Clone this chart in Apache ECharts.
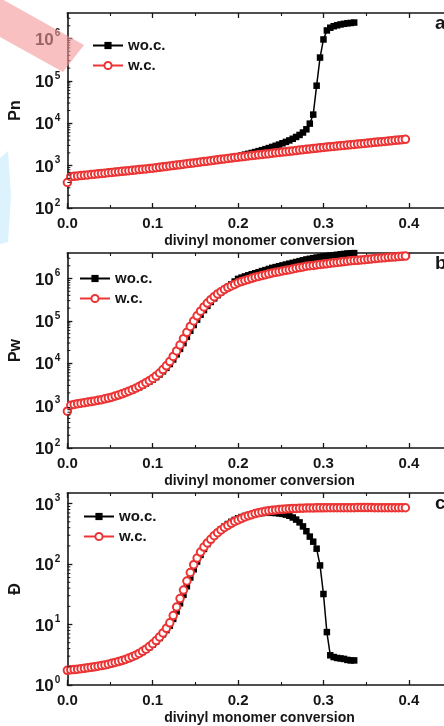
<!DOCTYPE html>
<html>
<head>
<meta charset="utf-8">
<script src="https://cdn.jsdelivr.net/npm/echarts@6/dist/echarts.min.js"></script>
<style>
  html, body { margin: 0; padding: 0; background: #fff; overflow: hidden; width: 444px; height: 726px; }
  #chart { width: 470px; height: 726px; }
</style>
</head>
<body>
<div id="chart"></div>
<script>
// divinyl monomer conversion (x), step of the simulation points
const conversion = [
  0.000, 0.004, 0.008, 0.012, 0.016, 0.020, 0.024, 0.028, 0.032, 0.036,
  0.040, 0.044, 0.048, 0.052, 0.056, 0.060, 0.064, 0.068, 0.072, 0.076,
  0.080, 0.084, 0.088, 0.092, 0.096, 0.100, 0.104, 0.108, 0.112, 0.116,
  0.120, 0.124, 0.128, 0.132, 0.136, 0.140, 0.144, 0.148, 0.152, 0.156,
  0.160, 0.164, 0.168, 0.172, 0.176, 0.180, 0.184, 0.188, 0.192, 0.196,
  0.200, 0.204, 0.208, 0.212, 0.216, 0.220, 0.224, 0.228, 0.232, 0.236,
  0.240, 0.244, 0.248, 0.252, 0.256, 0.260, 0.264, 0.268, 0.272, 0.276,
  0.280, 0.284, 0.288, 0.292, 0.296, 0.300, 0.304, 0.308, 0.312, 0.316,
  0.320, 0.324, 0.328, 0.332, 0.336, 0.340, 0.344, 0.348, 0.352, 0.356,
  0.360, 0.364, 0.368, 0.372, 0.376, 0.380, 0.384, 0.388, 0.392, 0.396
];

// (a) Pn
const pnWoc = [
  400, 545, 556, 566, 577, 588, 600, 611, 623, 636,
  648, 660, 673, 686, 699, 713, 727, 741, 755, 770,
  785, 800, 815, 830, 846, 862, 880, 900, 920, 942,
  963, 985, 1008, 1031, 1055, 1079, 1104, 1130, 1157, 1185,
  1214, 1245, 1278, 1312, 1350, 1390, 1435, 1485, 1540, 1600,
  1665, 1740, 1820, 1900, 1990, 2090, 2200, 2320, 2450, 2600,
  2760, 2940, 3140, 3370, 3630, 3930, 4300, 4750, 5300, 6050,
  7200, 9800, 16000, 77000, 355000, 950000, 1550000, 1800000, 1950000, 2050000,
  2150000, 2220000, 2280000, 2330000, 2380000
];
const pnWc = [
  400, 550, 560, 571, 582, 593, 605, 617, 628, 641,
  653, 665, 679, 692, 705, 719, 733, 746, 762, 776,
  791, 807, 822, 837, 855, 871, 891, 914, 935, 959,
  982, 1005, 1030, 1054, 1081, 1107, 1132, 1161, 1189, 1219,
  1247, 1276, 1309, 1340, 1374, 1406, 1439, 1476, 1510, 1549,
  1585, 1618, 1652, 1690, 1726, 1762, 1799, 1837, 1879, 1919,
  1959, 2000, 2042, 2089, 2133, 2178, 2223, 2270, 2323, 2371,
  2421, 2472, 2523, 2582, 2636, 2692, 2742, 2793, 2844, 2897,
  2951, 2999, 3055, 3112, 3170, 3228, 3289, 3350, 3412, 3475,
  3540, 3597, 3664, 3733, 3802, 3873, 3945, 4018, 4093, 4169
];

// (b) Pw
const pwWoc = [
  740, 1010, 1060, 1100, 1130, 1165, 1200, 1240, 1280, 1320,
  1365, 1425, 1490, 1560, 1650, 1745, 1860, 1990, 2130, 2300,
  2490, 2720, 3000, 3320, 3700, 4150, 4700, 5450, 6450, 7800,
  9600, 12300, 16200, 21900, 30000, 42000, 58500, 80000, 107000, 140000,
  180000, 226000, 280000, 340000, 405000, 475000, 560000, 630000, 725000, 850000,
  980000, 1050000, 1120000, 1190000, 1260000, 1330000, 1410000, 1500000, 1580000, 1680000,
  1780000, 1860000, 1950000, 2040000, 2140000, 2240000, 2340000, 2450000, 2570000, 2690000,
  2820000, 2920000, 3020000, 3130000, 3240000, 3310000, 3390000, 3470000, 3550000, 3630000,
  3720000, 3800000, 3890000, 3940000, 3980000
];
const pwWc = [
  740, 1020, 1070, 1110, 1140, 1175, 1210, 1250, 1290, 1335,
  1380, 1445, 1510, 1585, 1680, 1780, 1905, 2040, 2190, 2370,
  2570, 2820, 3130, 3470, 3890, 4370, 5010, 5890, 7080, 8710,
  10960, 14450, 19500, 26900, 38000, 53700, 74100, 100000, 131800, 169800,
  213800, 263000, 316000, 372000, 431500, 490000, 550000, 610000, 668000, 724000,
  794000, 845000, 897000, 951000, 1010000, 1070000, 1120000, 1170000, 1230000, 1290000,
  1350000, 1400000, 1450000, 1510000, 1560000, 1620000, 1680000, 1750000, 1810000, 1880000,
  1950000, 2000000, 2040000, 2090000, 2140000, 2190000, 2240000, 2290000, 2340000, 2400000,
  2450000, 2510000, 2570000, 2630000, 2660000, 2690000, 2740000, 2790000, 2840000, 2900000,
  2950000, 3010000, 3050000, 3110000, 3160000, 3200000, 3240000, 3290000, 3330000, 3390000
];

// (c) dispersity
const dWoc = [
  1.75, 1.78, 1.80, 1.83, 1.86, 1.89, 1.92, 1.96, 2.00, 2.04,
  2.09, 2.14, 2.20, 2.27, 2.34, 2.42, 2.52, 2.63, 2.76, 2.91,
  3.08, 3.29, 3.54, 3.85, 4.22, 4.68, 5.25, 5.98, 6.90, 8.10,
  9.6, 12.4, 16.5, 22.5, 31, 43, 60, 82, 110, 142,
  178, 215, 252, 292, 332, 375, 418, 460, 500, 538,
  572, 600, 625, 647, 665, 680, 692, 700, 705, 707,
  705, 700, 690, 678, 658, 630, 590, 545, 490, 420,
  350, 285, 235, 180, 95, 32, 7.5, 3.1, 2.9, 2.8,
  2.75, 2.7, 2.6, 2.55, 2.55
];
const dWc = [
  1.75, 1.78, 1.80, 1.83, 1.86, 1.89, 1.93, 1.96, 2.00, 2.05,
  2.10, 2.15, 2.21, 2.28, 2.36, 2.44, 2.54, 2.65, 2.79, 2.94,
  3.12, 3.33, 3.60, 3.92, 4.32, 4.81, 5.43, 6.24, 7.28, 8.65,
  10.7, 14.1, 19.5, 26.9, 37.2, 52.5, 72.4, 97.7, 126, 158,
  191, 224, 257, 295, 331, 367, 403, 437, 473, 507,
  537, 569, 603, 631, 658, 684, 708, 728, 746, 762,
  776, 787, 798, 807, 815, 822, 828, 834, 839, 843,
  847, 849, 851, 852, 853, 854, 855, 856, 857, 857,
  858, 858, 859, 859, 859, 860, 860, 860, 860, 860,
  859, 859, 859, 858, 858, 857, 857, 856, 856, 855
];

// log minor tick positions (2..9 of each decade)
const minorTicksP = [
  200, 300, 400, 500, 600, 700, 800, 900,
  2000, 3000, 4000, 5000, 6000, 7000, 8000, 9000,
  20000, 30000, 40000, 50000, 60000, 70000, 80000, 90000,
  200000, 300000, 400000, 500000, 600000, 700000, 800000, 900000,
  2000000, 3000000
];
const minorTicksD = [
  2, 3, 4, 5, 6, 7, 8, 9,
  20, 30, 40, 50, 60, 70, 80, 90,
  200, 300, 400, 500, 600, 700, 800, 900
];

const legendNames = ['wo.c.', 'w.c.'];

const FONT = '"Liberation Sans", Arial, sans-serif';
const INK = '#161616';
const RED = '#ec3434';

const panels = [
  { tag: 'a', top: 13, yName: 'Pn', yMin: 100, yMax: 4e6, woc: pnWoc, wc: pnWc, minor: minorTicksP, legendLeft: 87, legendTop: 33 },
  { tag: 'b', top: 253, yName: 'Pw', yMin: 100, yMax: 4e6, woc: pwWoc, wc: pwWc, minor: minorTicksP, legendLeft: 74, legendTop: 266 },
  { tag: 'c', top: 493, yName: 'Đ', yMin: 1, yMax: 1500, woc: dWoc, wc: dWc, minor: minorTicksD, legendLeft: 78, legendTop: 504 }
];

function logLabel(v) {
  const n = Math.log10(v);
  if (Math.abs(n - Math.round(n)) > 1e-6) return '';
  return '{b|10}{s|' + Math.round(n) + '}';
}

const chart = echarts.init(document.getElementById('chart'), null, { renderer: 'canvas' });

const grid = [], xAxis = [], yAxis = [], series = [], legend = [];
const graphic = [
  // watermark remnants seen on the scanned figure
  { type: 'polygon', shape: { points: [[0, -2], [84, 45], [63, 72], [0, 37]] }, style: { fill: 'rgba(244,150,150,0.6)' }, z: 100 },
  { type: 'polygon', shape: { points: [[0, 158], [8, 151], [11, 196], [8, 242], [0, 244]] }, style: { fill: '#dcf3fd' }, z: -1 }
];

panels.forEach(function (p, i) {
  grid.push({ left: 61, top: p.top, width: 390.5, height: 195 });

  const tickStyle = { color: INK, width: 1.3 };
  const xBase = {
    gridIndex: i, type: 'value', min: 0, max: 0.45, interval: 0.1,
    axisLine: { onZero: false, lineStyle: { color: INK, width: 1.6 } },
    axisTick: { inside: true, length: 5, lineStyle: tickStyle },
    minorTick: { show: true, splitNumber: 2, length: 3, lineStyle: { color: INK, width: 1.1 } },
    splitLine: { show: false }
  };
  xAxis.push(Object.assign({}, xBase, {
    position: 'bottom',
    name: 'divinyl monomer conversion', nameLocation: 'middle', nameGap: 26,
    nameTextStyle: { fontFamily: FONT, fontWeight: 'bold', fontSize: 14, color: INK },
    axisLabel: {
      margin: 8, fontFamily: FONT, fontWeight: 'bold', fontSize: 15, color: INK,
      showMaxLabel: false,
      formatter: function (v) { return v.toFixed(1); }
    }
  }));
  xAxis.push(Object.assign({}, xBase, { position: 'top', axisLabel: { show: false } }));

  yAxis.push({
    gridIndex: i, type: 'log', logBase: 10, min: p.yMin, max: p.yMax, splitNumber: 4,
    name: p.yName, nameLocation: 'middle', nameGap: 35,
    nameTextStyle: { fontFamily: FONT, fontWeight: 'bold', fontSize: 16, color: INK },
    axisLine: { show: true, onZero: false, lineStyle: { color: INK, width: 1.6 } },
    axisTick: { inside: true, length: 5, lineStyle: tickStyle },
    splitLine: { show: false },
    axisLabel: {
      margin: 7, color: INK, showMaxLabel: false,
      formatter: logLabel,
      rich: {
        b: { fontFamily: FONT, fontWeight: 'bold', fontSize: 17, color: INK, lineHeight: 20, verticalAlign: 'bottom' },
        s: { fontFamily: FONT, fontWeight: 'bold', fontSize: 10, color: INK, lineHeight: 20, verticalAlign: 'top', padding: [0, 0, 0, 1] }
      }
    }
  });

  series.push({
    name: legendNames[0], type: 'line', xAxisIndex: 2 * i, yAxisIndex: i,
    data: p.woc.map(function (v, k) { return [conversion[k], v]; }),
    symbol: 'rect', symbolSize: 6.5, showAllSymbol: true,
    itemStyle: { color: '#000' },
    lineStyle: { color: '#000', width: 1.5 },
    animation: false, z: 3
  });
  series.push({
    name: legendNames[1], type: 'line', xAxisIndex: 2 * i, yAxisIndex: i,
    data: p.wc.map(function (v, k) { return [conversion[k], v]; }),
    symbol: 'emptyCircle', symbolSize: 7.5, showAllSymbol: true,
    itemStyle: { color: RED, borderWidth: 1 },
    lineStyle: { color: RED, width: 1.5 },
    animation: false, z: 4
  });
  // log minor ticks on the left axis
  series.push({
    type: 'custom', xAxisIndex: 2 * i, yAxisIndex: i, silent: true, clip: false, animation: false,
    data: p.minor.map(function (v) { return [0, v]; }),
    renderItem: function (params, api) {
      const pt = api.coord([api.value(0), api.value(1)]);
      return {
        type: 'line',
        shape: { x1: pt[0], y1: pt[1], x2: pt[0] + 3, y2: pt[1] },
        style: { stroke: INK, lineWidth: 1 }
      };
    },
    z: 5
  });

  legend.push({
    data: legendNames, orient: 'vertical', left: p.legendLeft, top: p.legendTop,
    itemWidth: 30, itemHeight: 9, itemGap: 5,
    textStyle: { fontFamily: FONT, fontWeight: 'bold', fontSize: 15, color: INK },
    selectedMode: false
  });

  graphic.push({
    type: 'text', left: 435, top: p.top + 1,
    style: { text: p.tag, font: 'bold 19px ' + FONT, fill: INK }
  });
});

chart.setOption({
  backgroundColor: '#fff',
  animation: false,
  grid: grid,
  xAxis: xAxis,
  yAxis: yAxis,
  legend: legend,
  graphic: graphic,
  series: series
});
</script>
</body>
</html>
